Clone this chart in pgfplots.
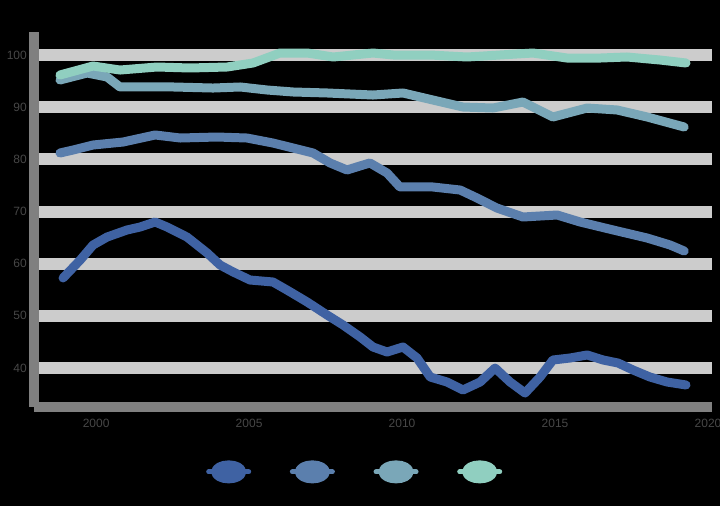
\documentclass[border=0pt]{standalone}
\usepackage{fontspec}
\setmainfont{Liberation Sans}
\usepackage{pgfplots}
\usepackage{pgfplotstable}
\pgfplotsset{compat=1.18}
\definecolor{c1}{HTML}{3F62A3}
\definecolor{c2}{HTML}{5B7FAD}
\definecolor{c3}{HTML}{7AA7B8}
\definecolor{c4}{HTML}{90CFC0}

\pgfplotstableread{
t v
1998.92 57.26
1999.48 60.70
1999.90 63.58
2000.36 65.11
2001.01 66.46
2001.44 67.03
2001.93 67.99
2002.32 67.03
2002.97 65.11
2003.63 62.05
2004.05 59.75
2004.48 58.41
2005.03 56.87
2005.78 56.49
2006.24 54.95
2006.90 52.65
2007.55 50.16
2008.07 48.25
2008.63 45.95
2009.05 44.03
2009.51 43.07
2010.03 44.03
2010.49 41.92
2010.92 38.28
2011.47 37.32
2011.99 35.79
2012.55 37.32
2013.04 40.00
2013.53 37.32
2014.02 35.21
2014.51 38.28
2014.93 41.54
2015.49 41.92
2016.05 42.50
2016.57 41.54
2017.06 40.96
2017.55 39.62
2018.10 38.28
2018.66 37.32
2019.28 36.75
}\seriesA

\pgfplotstableread{
t v
1998.82 81.22
1999.25 81.79
1999.90 82.75
2000.88 83.32
2001.93 84.67
2002.75 84.09
2003.95 84.28
2004.93 84.09
2005.78 83.13
2006.44 82.17
2007.09 81.22
2007.65 79.30
2008.20 77.96
2008.73 78.92
2008.95 79.30
2009.51 77.38
2009.93 74.70
2011.01 74.70
2011.90 74.12
2012.45 72.59
2013.10 70.67
2013.95 68.95
2015.07 69.33
2015.82 67.99
2016.90 66.46
2018.01 64.92
2018.76 63.58
2019.22 62.43
}\seriesB

\pgfplotstableread{
t v
1998.82 95.21
1999.71 96.55
2000.36 95.78
2000.78 93.87
2001.44 93.87
2002.52 93.87
2003.82 93.67
2004.71 93.87
2005.59 93.29
2006.44 92.91
2007.55 92.72
2009.05 92.33
2010.03 92.72
2011.01 91.37
2011.99 90.03
2012.97 89.84
2013.95 90.99
2014.93 88.12
2016.05 89.84
2017.03 89.46
2018.01 88.12
2019.22 86.20
}\seriesC

\pgfplotstableread{
t v
1998.82 96.17
1999.90 97.89
2000.78 97.12
2001.99 97.70
2003.07 97.51
2004.28 97.70
2005.13 98.47
2006.01 100.38
2006.90 100.38
2007.75 99.62
2009.05 100.38
2009.71 100.00
2010.92 100.00
2012.12 99.62
2013.20 100.00
2014.28 100.38
2015.39 99.42
2016.47 99.42
2017.35 99.62
2018.43 99.04
2019.28 98.47
}\seriesD

\begin{document}
\fontsize{12bp}{14bp}\selectfont
\begin{tikzpicture}
\fill[black] (0bp,0bp) rectangle (720bp,506bp);
\useasboundingbox (0bp,0bp) rectangle (720bp,506bp);
\begin{axis}[
  at={(34bp,99bp)}, anchor=south west,
  scale only axis, width=678bp, height=375bp,
  xmin=1997.97, xmax=2020.13, ymin=32.53, ymax=104.41,
  axis x line*=bottom, axis y line*=left,
  axis line style={line width=10bp, color=black!50, -},
  ymajorgrids, major grid style={line width=12bp, color=black!20},
  ytick={40,50,60,70,80,90,100},
  xtick={2000,2005,2010,2015,2020},
  major tick length=0pt,
  tick label style={color=black!72, font=\fontsize{12bp}{14bp}\selectfont},
  /pgf/number format/assume math mode=true,
  /pgf/number format/1000 sep={},
  yticklabel style={xshift=-3bp},
  xticklabel style={yshift=-8bp},
  legend columns=4,
  legend cell align=left,
  legend style={at={(0.2537,-0.173)}, anchor=west, draw=none, fill=none,
    inner sep=0pt, text=black, font=\fontsize{10bp}{12bp}\selectfont,
    /tikz/every even column/.append style={column sep=-2bp}},
  legend image code/.code={
    \draw[#1, line width=5bp] (0bp,0bp) -- (40bp,0bp);
    \fill[#1] (20bp,0bp) ellipse (13bp and 7bp);
  },
  every axis plot/.append style={line width=9bp, line join=round, line cap=round, mark=none},
]
\addplot[c1] table[x=t,y=v] {\seriesA};
\addlegendentry{Series 1}
\addplot[c2] table[x=t,y=v] {\seriesB};
\addlegendentry{Series 2}
\addplot[c3] table[x=t,y=v] {\seriesC};
\addlegendentry{Series 3}
\addplot[c4] table[x=t,y=v] {\seriesD};
\addlegendentry{Series 4}
\end{axis}
\end{tikzpicture}
\end{document}
